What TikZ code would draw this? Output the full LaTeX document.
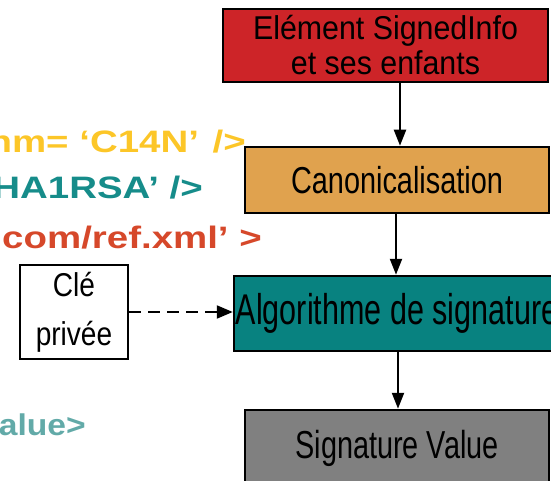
\documentclass[tikz,border=0pt]{standalone}
\usepackage{fontspec}
\setmainfont{Liberation Sans}
\usetikzlibrary{arrows.meta}
\newfontfamily\redf[FakeStretch=0.92]{Liberation Sans}
\newfontfamily\canf[FakeStretch=0.77]{Liberation Sans}
\newfontfamily\algf[FakeStretch=0.71]{Liberation Sans}
\newfontfamily\sigf[FakeStretch=0.74]{Liberation Sans}
\newfontfamily\clef[FakeStretch=0.85]{Liberation Sans}
\newfontfamily\codef[FakeStretch=1.24]{Liberation Sans Bold}
\newfontfamily\codeg[FakeStretch=1.12]{Liberation Sans Bold}
\definecolor{redfill}{RGB}{205,36,40}
\definecolor{orafill}{RGB}{224,162,78}
\definecolor{tealfill}{RGB}{8,130,128}
\definecolor{grayfill}{RGB}{128,128,128}
\definecolor{codeyellow}{RGB}{252,198,40}
\definecolor{codeteal}{RGB}{22,140,138}
\definecolor{codered}{RGB}{214,72,42}
\definecolor{codelteal}{RGB}{98,170,168}
\tikzset{
  box/.style={draw=black, line width=2.5pt, inner sep=0pt, align=center, text=black},
  arr/.style={line width=2.2pt, -{Triangle[length=16pt,width=12pt]}},
  dasharr/.style={line width=2.2pt, dash pattern=on 12pt off 7pt, -{Triangle[length=16pt,width=13pt]}},
  code/.style={inner sep=0pt, anchor=base east, font=\codef\fontsize{31pt}{33pt}\selectfont}
}
\begin{document}
\begin{tikzpicture}[x=1pt,y=-1pt]
\useasboundingbox (0,0) rectangle (551,481);
\clip (0,0) rectangle (551,481);
% boxes
\node[box, fill=redfill, minimum width=325pt, minimum height=73pt,
      font=\redf\fontsize{33pt}{35pt}\selectfont] (sig) at (385.5,45.5)
      {Elément SignedInfo\\et ses enfants};
\node[box, fill=orafill, minimum width=304pt, minimum height=66pt,
      font=\canf\fontsize{37.5pt}{40pt}\selectfont] (canon) at (397,180)
      {Canonicalisation};
\node[box, fill=tealfill, minimum width=326pt, minimum height=75pt,
      font=\algf\fontsize{43pt}{45pt}\selectfont] (algo) at (397,313.5)
      {Algorithme de signature};
\node[box, fill=grayfill, minimum width=304pt, minimum height=76pt,
      font=\sigf\fontsize{39pt}{41pt}\selectfont] (sval) at (397,448)
      {Signature Value};
\node[box, fill=white, minimum width=108pt, minimum height=94pt,
      font=\clef\fontsize{33pt}{49pt}\selectfont] (cle) at (74,312)
      {Clé\\privée};
% code lines
\node[code, text=codeyellow] (l1) at (246,153) {hm= ‘C14N’\hspace{3pt} />};
\node[code, text=codeteal] (l2) at (203,199) {HA1RSA’ />};
\node[code, text=codered] (l3) at (262,248) {com/ref.xml’ >};
\node[code, text=codelteal, font=\codeg\fontsize{30pt}{32pt}\selectfont] (l4) at (86,435) {alue>};
% connectors
\coordinate (xa) at (400,0);
\coordinate (xb) at (396,0);
\coordinate (xc) at (398,0);
\draw[arr] (sig.south -| xa) -- (canon.north -| xa);
\draw[arr] (canon.south -| xb) -- (algo.north -| xb);
\draw[arr] (algo.south -| xc) -- (sval.north -| xc);
\draw[dasharr] (cle.east) -- (cle.east -| algo.west);
\end{tikzpicture}
\end{document}
